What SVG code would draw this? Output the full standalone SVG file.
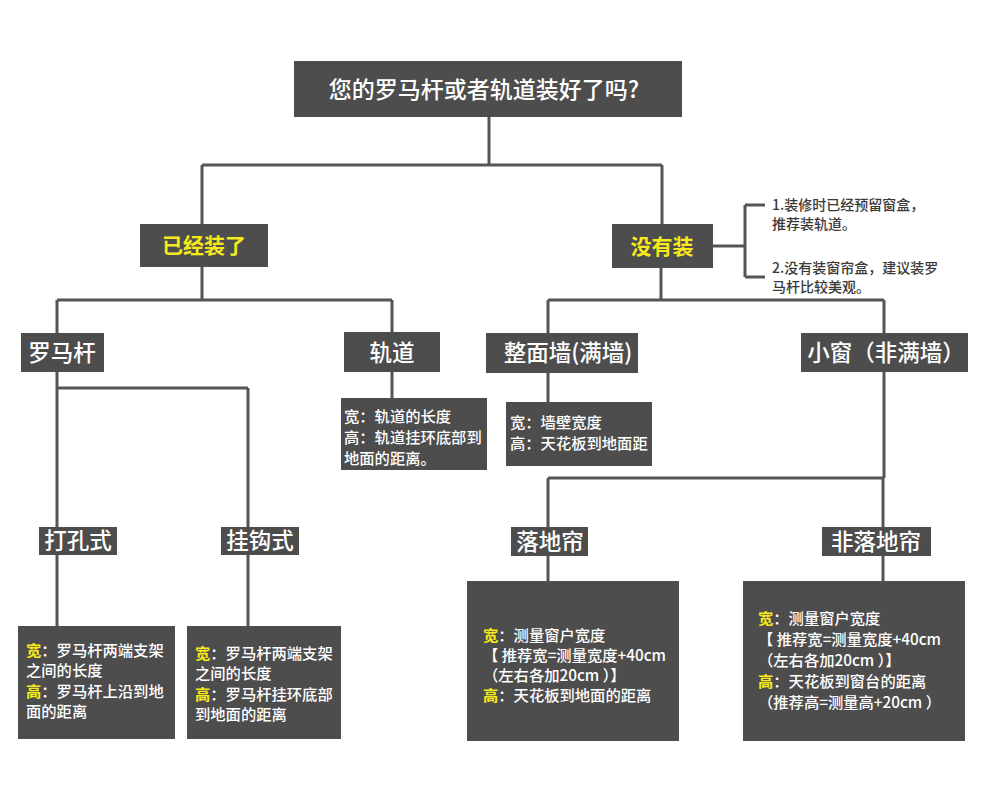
<svg xmlns="http://www.w3.org/2000/svg" width="990" height="799" viewBox="0 0 990 799">
<style>
.box{fill:#4d4d4d}
.t{font-family:"Noto Sans CJK SC","Noto Sans",sans-serif;fill:#ffffff}
.big{font-size:22.5px;font-weight:500}
.top{font-size:23px;font-weight:500}
.yb{font-size:21px;font-weight:bold;fill:#f6ea1a}
.sm{font-size:15.3px;font-weight:500}
.y{fill:#f6ea1a;font-weight:bold}
.ann{font-family:"Noto Sans CJK SC","Noto Sans",sans-serif;font-size:14px;font-weight:500;fill:#3a3a3a}
.ln{fill:none;stroke:#555555;stroke-width:3}
</style>
<rect width="990" height="799" fill="#ffffff"/>
<g id="connectors">
<path class="ln" d="M489 117V165M202 165H662M202 165V224M662 165V224"/>
<path class="ln" d="M202 267V300M57 300H392M57 300V333M392 300V332"/>
<path class="ln" d="M661 268V300M548 300H884M548 300V333M884 300V333"/>
<path class="ln" d="M713 246H745M745 205V277M745 205H765M745 277H765"/>
<path class="ln" d="M57 372V626M57 388H248M248 388V626"/>
<path class="ln" d="M392 372V398"/>
<path class="ln" d="M548 373V402"/>
<path class="ln" d="M884 372V478M548 478H884M548 478V581M883 478V581"/>
</g>
<g id="root">
<rect class="box" x="294" y="61" width="388" height="56"/>
<text class="t top" x="484" y="98" text-anchor="middle">您的罗马杆或者轨道装好了吗?</text>
</g>
<g id="installed">
<rect class="box" x="140" y="224" width="128" height="43"/>
<text class="t yb" x="204" y="253" text-anchor="middle">已经装了</text>
</g>
<g id="not-installed">
<rect class="box" x="612" y="224" width="101" height="44"/>
<text class="t yb" x="662" y="254" text-anchor="middle">没有装</text>
</g>
<g id="note">
<text class="ann" x="772" y="210">1.装修时已经预留窗盒，</text>
<text class="ann" x="772" y="229">推荐装轨道。</text>
<text class="ann" x="772" y="273">2.没有装窗帘盒，建议装罗</text>
<text class="ann" x="772" y="292">马杆比较美观。</text>
</g>
<g id="roman-rod">
<rect class="box" x="21" y="333" width="83" height="39"/>
<text class="t big" x="62" y="361" text-anchor="middle">罗马杆</text>
</g>
<g id="track">
<rect class="box" x="344" y="332" width="96" height="40"/>
<text class="t big" x="392" y="361" text-anchor="middle">轨道</text>
</g>
<g id="track-detail">
<rect class="box" x="341" y="398" width="146" height="72"/>
<text class="t sm" x="344" y="422">宽：轨道的长度</text>
<text class="t sm" x="344" y="443">高：轨道挂环底部到</text>
<text class="t sm" x="344" y="464">地面的距离。</text>
</g>
<g id="full-wall">
<rect class="box" x="486" y="333" width="152" height="40"/>
<text class="t big" x="568" y="361" text-anchor="middle">整面墙(满墙)</text>
</g>
<g id="full-wall-detail">
<rect class="box" x="506" y="402" width="146" height="64"/>
<text class="t sm" x="510" y="428">宽：墙壁宽度</text>
<text class="t sm" x="510" y="449">高：天花板到地面距</text>
</g>
<g id="small-window">
<rect class="box" x="801" y="333" width="167" height="39"/>
<text class="t big" x="886" y="361" text-anchor="middle">小窗（非满墙）</text>
</g>
<g id="drill">
<rect class="box" x="39" y="527" width="78" height="28"/>
<text class="t big" x="78" y="549" text-anchor="middle">打孔式</text>
</g>
<g id="drill-detail">
<rect class="box" x="18" y="626" width="157" height="113"/>
<text class="t sm" x="26" y="656"><tspan class="y">宽</tspan>：罗马杆两端支架</text>
<text class="t sm" x="26" y="676">之间的长度</text>
<text class="t sm" x="26" y="697"><tspan class="y">高</tspan>：罗马杆上沿到地</text>
<text class="t sm" x="26" y="717">面的距离</text>
</g>
<g id="hook">
<rect class="box" x="221" y="527" width="78" height="28"/>
<text class="t big" x="260" y="549" text-anchor="middle">挂钩式</text>
</g>
<g id="hook-detail">
<rect class="box" x="187" y="626" width="154" height="113"/>
<text class="t sm" x="195" y="659"><tspan class="y">宽</tspan>：罗马杆两端支架</text>
<text class="t sm" x="195" y="679">之间的长度</text>
<text class="t sm" x="195" y="700"><tspan class="y">高</tspan>：罗马杆挂环底部</text>
<text class="t sm" x="195" y="720">到地面的距离</text>
</g>
<g id="floor-curtain">
<rect class="box" x="511" y="527" width="77" height="29"/>
<text class="t big" x="550" y="550" text-anchor="middle">落地帘</text>
</g>
<g id="floor-detail">
<rect class="box" x="467" y="581" width="212" height="160"/>
<text class="t sm" x="483" y="641"><tspan class="y">宽</tspan>：测量窗户宽度</text>
<text class="t sm" x="483" y="661">【 推荐宽=测量宽度+40cm</text>
<text class="t sm" x="483" y="681">（左右各加20cm ）】</text>
<text class="t sm" x="483" y="701"><tspan class="y">高</tspan>：天花板到地面的距离</text>
</g>
<g id="non-floor-curtain">
<rect class="box" x="822" y="527" width="109" height="29"/>
<text class="t big" x="876" y="550" text-anchor="middle">非落地帘</text>
</g>
<g id="non-floor-detail">
<rect class="box" x="743" y="581" width="222" height="160"/>
<text class="t sm" x="758" y="624"><tspan class="y">宽</tspan>：测量窗户宽度</text>
<text class="t sm" x="758" y="645">【 推荐宽=测量宽度+40cm</text>
<text class="t sm" x="758" y="666">（左右各加20cm ）】</text>
<text class="t sm" x="758" y="687"><tspan class="y">高</tspan>：天花板到窗台的距离</text>
<text class="t sm" x="758" y="708">（推荐高=测量高+20cm ）</text>
</g>
</svg>
